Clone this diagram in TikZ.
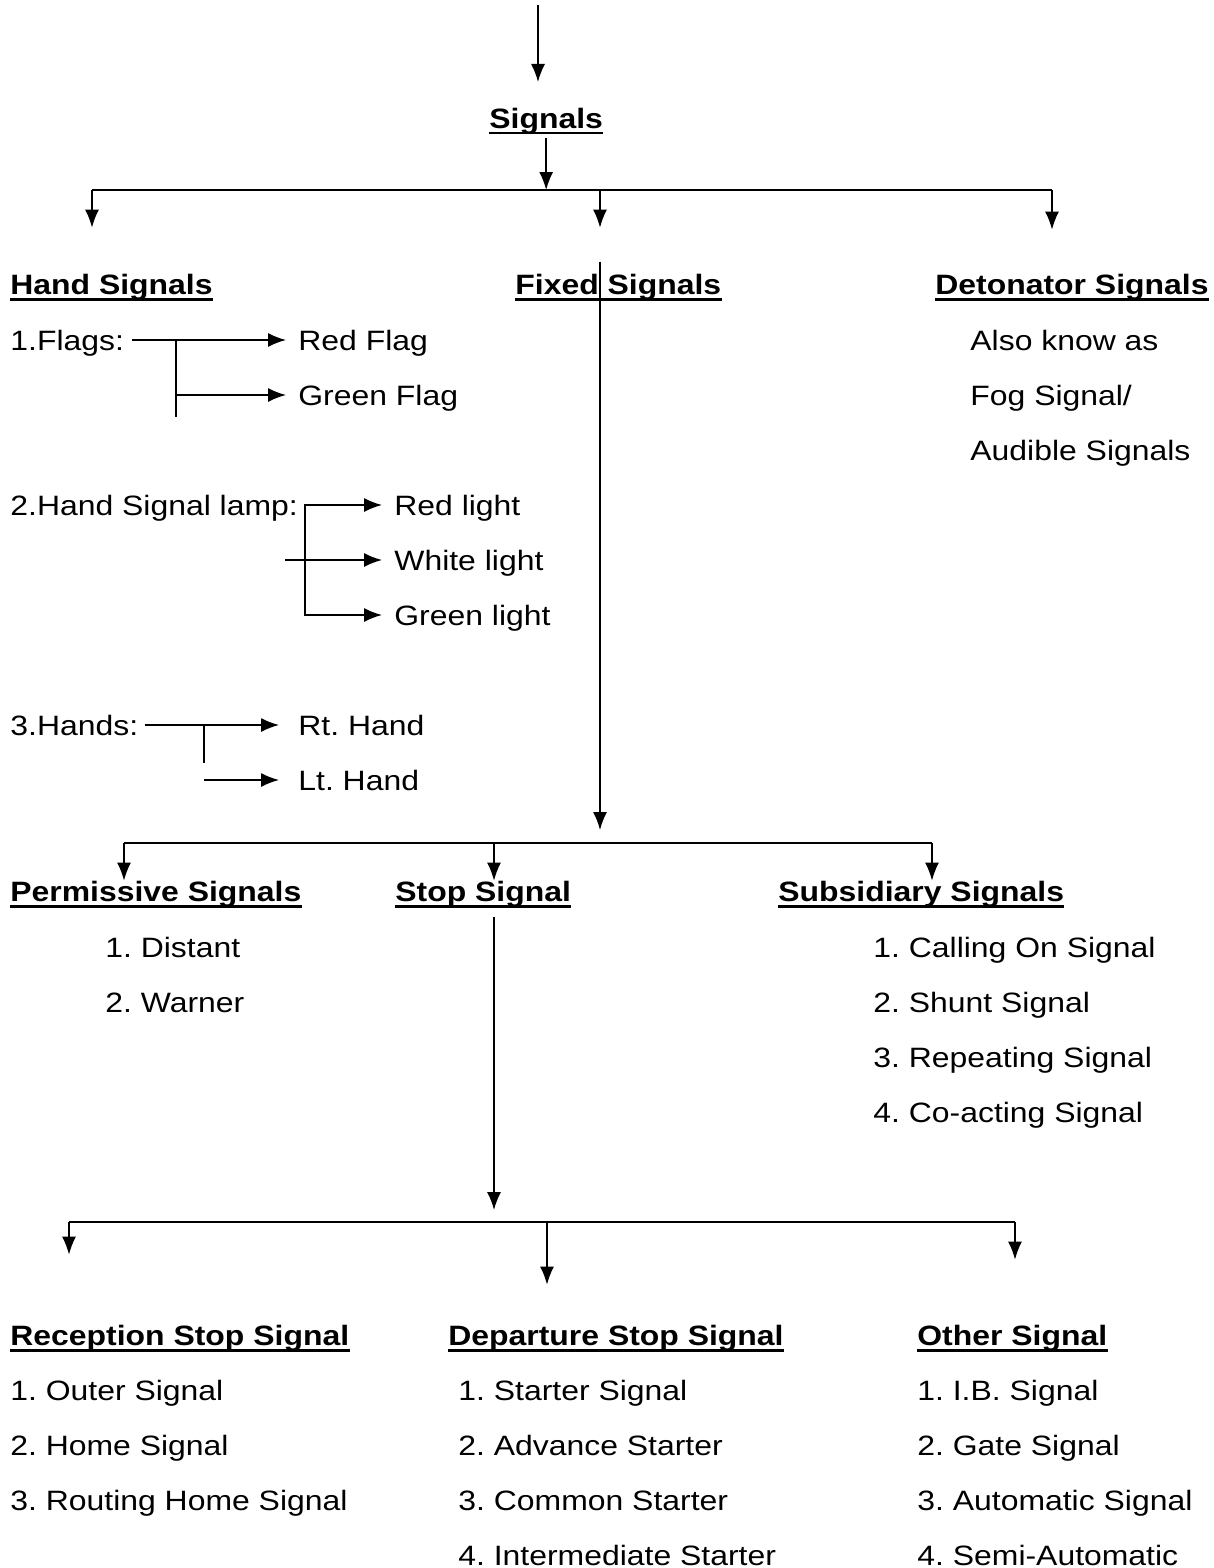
\documentclass[tikz,border=0pt]{standalone}
\usepackage{fontspec}
\setmainfont{Liberation Sans}[FakeStretch=1.14]
\usetikzlibrary{arrows.meta}
\tikzset{
  >={Latex[length=9pt,width=7pt]},
  link/.style ={line width=0.75pt},
  uline/.style ={-, line width=1.3pt},
  item/.style ={inner sep=0pt, anchor=base west, text height=10pt,
                text depth=0pt, font=\fontsize{14}{17}\selectfont\frenchspacing},
  head/.style ={item, font=\fontsize{14}{17}\selectfont\frenchspacing\bfseries,
                text depth=2.4pt,
                append after command={(\tikzlastnode.south west)
                  edge[uline] (\tikzlastnode.south east)}},
}
\begin{document}
\begin{tikzpicture}[x=0.5pt,y=-0.5pt]
\useasboundingbox (0,0) rectangle (1214,1568);
% top
\coordinate (src) at (538,5);
\coordinate (srcend) at (538,82);
\draw[link,->] (src) -- (srcend);
\node[head] (sig) at (489,128) {Signals};
\coordinate (barAl) at (92,190);
\coordinate (barAm) at (600,190);
\coordinate (barAr) at (1052,190);
\draw[link] (barAl) -- (barAr);
\draw[link,->,shorten <=2.5pt] (sig.south) -- (sig.south |- barAl);
\node[head] (hand) at (10,294) {Hand Signals};
\node[head] (fixed) at (515,294) {Fixed Signals};
\node[head] (deton) at (935,294) {Detonator Signals};
\draw[link,->,shorten >=23pt] (barAl) -- (barAl |- hand.north);
\draw[link,->,shorten >=23pt] (barAm) -- (barAm |- fixed.north);
\draw[link,->,shorten >=22pt] (barAr) -- (barAr |- deton.north);
% hand signals
\node[item] (flags) at (10,350) {1.Flags:};
\node[item] (redflag) at (298,350) {Red Flag};
\node[item] (greenflag) at (298,405) {Green Flag};
\coordinate (flagsj) at (176,340);
\coordinate (flagse) at (176,417);
\draw[link,->,shorten <=4pt,shorten >=6pt] (flags.east) -- (redflag.west);
\draw[link] (flagsj) -- (flagse);
\draw[link,->,shorten >=6pt] (flagsj |- greenflag.west) -- (greenflag.west);
\node[item] (lamp) at (10,515) {2.Hand Signal lamp:};
\node[item] (redlight) at (394,515) {Red light};
\node[item] (whitelight) at (394,570) {White light};
\node[item] (greenlight) at (394,625) {Green light};
\coordinate (lampj) at (305,505);
\coordinate (lampe) at (305,615);
\coordinate (lampw) at (285,560);
\draw[link,<->,shorten <=6pt,shorten >=6pt] (redlight.west) -- (lampj)
  -- (lampe) -- (greenlight.west);
\draw[link,->,shorten >=6pt] (lampw) -- (whitelight.west);
\node[item] (hands) at (10,735) {3.Hands:};
\node[item] (rthand) at (298,735) {Rt. Hand};
\node[item] (lthand) at (298,790) {Lt. Hand};
\coordinate (handsj) at (204,725);
\coordinate (handse) at (204,763);
\coordinate (ltstart) at (204,780);
\draw[link,->,shorten <=3pt,shorten >=9.5pt] (hands.east) -- (rthand.west);
\draw[link] (handsj) -- (handse);
\draw[link,->,shorten >=9.5pt] (ltstart) -- (lthand.west);
% detonator
\node[item] (alsok) at (970,350) {Also know as};
\node[item] (fogsig) at (970,405) {Fog Signal/};
\node[item] (audsig) at (970,460) {Audible Signals};
% fixed signals
\coordinate (barBl) at (124,843);
\coordinate (barBm) at (600,843);
\coordinate (barBs) at (494,843);
\coordinate (barBr) at (932,843);
\draw[link,->,shorten >=6.5pt] ([yshift=6pt]fixed.north -| barAm) -- (barBm);
\draw[link] (barBl) -- (barBr);
\node[head] (perm) at (10,901) {Permissive Signals};
\node[head] (stop) at (395,901) {Stop Signal};
\node[head] (subs) at (778,901) {Subsidiary Signals};
\draw[link,->] (barBl) -- (barBl |- perm.north);
\draw[link,->] (barBs) -- (barBs |- stop.north);
\draw[link,->] (barBr) -- (barBr |- subs.north);
\foreach \t [count=\i] in {Distant, Warner}
  \node[item] (perm\i) at (105,{902+55*\i}) {\i. \t};
\foreach \t [count=\i] in {Calling On Signal, Shunt Signal,
    Repeating Signal, Co-acting Signal}
  \node[item] (subs\i) at (873,{902+55*\i}) {\i. \t};
% stop signals
\coordinate (barCl) at (69,1222);
\coordinate (barCm) at (547,1222);
\coordinate (barCr) at (1015,1222);
\draw[link,->,shorten <=5.5pt,shorten >=6pt] (stop.south -| barBs) -- (barBs |- barCl);
\draw[link] (barCl) -- (barCr);
\node[head] (recep) at (10,1345) {Reception Stop Signal};
\node[head] (depar) at (448,1345) {Departure Stop Signal};
\node[head] (other) at (917,1345) {Other Signal};
\draw[link,->,shorten >=35pt] (barCl) -- (barCl |- recep.north);
\draw[link,->,shorten >=20pt] (barCm) -- (barCm |- depar.north);
\draw[link,->,shorten >=32.5pt] (barCr) -- (barCr |- other.north);
\foreach \t [count=\i] in {Outer Signal, Home Signal, Routing Home Signal}
  \node[item] (recep\i) at (10,{1345+55*\i}) {\i. \t};
\foreach \t [count=\i] in {Starter Signal, Advance Starter, Common Starter,
    Intermediate Starter}
  \node[item] (depar\i) at (458,{1345+55*\i}) {\i. \t};
\foreach \t [count=\i] in {I.B. Signal, Gate Signal, Automatic Signal,
    Semi-Automatic}
  \node[item] (other\i) at (917,{1345+55*\i}) {\i. \t};
\end{tikzpicture}
\end{document}
